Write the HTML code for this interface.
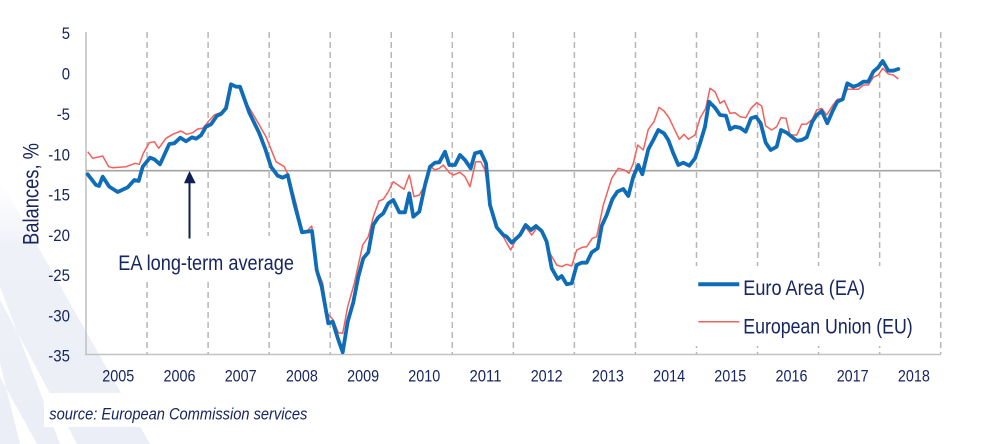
<!DOCTYPE html>
<html>
<head>
<meta charset="utf-8">
<style>
  html,body{margin:0;padding:0;background:#ffffff;}
  svg{display:block;}
  text{font-family:"Liberation Sans",Arial,sans-serif;fill:#172560;}
</style>
</head>
<body>
<svg width="989" height="444" viewBox="0 0 989 444" xmlns="http://www.w3.org/2000/svg">
  <defs>
    <linearGradient id="lav" x1="0" y1="0" x2="0" y2="1">
      <stop offset="0" stop-color="#f3f4fa" stop-opacity="0"/>
      <stop offset="0.25" stop-color="#eff1f8" stop-opacity="1"/>
      <stop offset="1" stop-color="#eceef7" stop-opacity="1"/>
    </linearGradient>
  </defs>
  <rect x="0" y="0" width="989" height="444" fill="#ffffff"/>

  <!-- decorative lavender stripes bottom-left -->
  <polygon points="0,180 150,444 0,444" fill="url(#lav)"/>
  <polygon points="0,287 0,300 77,444 60,444" fill="#ffffff"/>
  <polygon points="0,363 0,377 37,444 20,444" fill="#ffffff"/>

  <!-- white box behind source text -->
  <rect x="44" y="393" width="290" height="34" fill="#ffffff"/>

  <!-- dashed vertical year separators -->
  <g stroke="#b6b6b6" stroke-width="1.5" stroke-dasharray="6,4" fill="none">
    <line x1="147.05" y1="32" x2="147.05" y2="354"/>
    <line x1="208.1" y1="32" x2="208.1" y2="354"/>
    <line x1="269.15" y1="32" x2="269.15" y2="354"/>
    <line x1="330.2" y1="32" x2="330.2" y2="354"/>
    <line x1="391.25" y1="32" x2="391.25" y2="354"/>
    <line x1="452.3" y1="32" x2="452.3" y2="354"/>
    <line x1="513.35" y1="32" x2="513.35" y2="354"/>
    <line x1="574.4" y1="32" x2="574.4" y2="354"/>
    <line x1="635.45" y1="32" x2="635.45" y2="354"/>
    <line x1="696.5" y1="32" x2="696.5" y2="354"/>
    <line x1="757.55" y1="32" x2="757.55" y2="354"/>
    <line x1="818.6" y1="32" x2="818.6" y2="354"/>
    <line x1="879.65" y1="32" x2="879.65" y2="354"/>
    <line x1="940.7" y1="32" x2="940.7" y2="354"/>
  </g>

  <!-- white boxes behind annotation and legend -->
  <rect x="110" y="236" width="190" height="46" fill="#ffffff"/>
  <rect x="688" y="266" width="247" height="80" fill="#ffffff"/>

  <!-- axes -->
  <line x1="86" y1="32" x2="86" y2="355" stroke="#c2c2c2" stroke-width="1.6"/>
  <line x1="85.2" y1="354.5" x2="941" y2="354.5" stroke="#c2c2c2" stroke-width="1.6"/>

  <!-- long-term average line -->
  <line x1="86" y1="170.7" x2="940.7" y2="170.7" stroke="#a3a3a3" stroke-width="1.6"/>

  <!-- y tick labels -->
  <g font-size="17" text-anchor="end">
    <text x="70" y="39" textLength="8.3" lengthAdjust="spacingAndGlyphs">5</text>
    <text x="70" y="79.5" textLength="8.3" lengthAdjust="spacingAndGlyphs">0</text>
    <text x="70" y="119.8" textLength="13.3" lengthAdjust="spacingAndGlyphs">-5</text>
    <text x="70" y="160.3" textLength="21.7" lengthAdjust="spacingAndGlyphs">-10</text>
    <text x="70" y="200.5" textLength="21.7" lengthAdjust="spacingAndGlyphs">-15</text>
    <text x="70" y="240.8" textLength="21.7" lengthAdjust="spacingAndGlyphs">-20</text>
    <text x="70" y="281" textLength="21.7" lengthAdjust="spacingAndGlyphs">-25</text>
    <text x="70" y="321.3" textLength="21.7" lengthAdjust="spacingAndGlyphs">-30</text>
    <text x="70" y="361.5" textLength="21.7" lengthAdjust="spacingAndGlyphs">-35</text>
  </g>

  <!-- y axis title -->
  <text font-size="22" text-anchor="middle" transform="translate(38.3,194) rotate(-90)" textLength="102" lengthAdjust="spacingAndGlyphs">Balances, %</text>

  <!-- x labels -->
  <g font-size="17" text-anchor="middle">
    <text x="118.3" y="381.5" textLength="32" lengthAdjust="spacingAndGlyphs">2005</text>
    <text x="179.5" y="381.5" textLength="32" lengthAdjust="spacingAndGlyphs">2006</text>
    <text x="240.7" y="381.5" textLength="32" lengthAdjust="spacingAndGlyphs">2007</text>
    <text x="301.9" y="381.5" textLength="32" lengthAdjust="spacingAndGlyphs">2008</text>
    <text x="363.1" y="381.5" textLength="32" lengthAdjust="spacingAndGlyphs">2009</text>
    <text x="424.3" y="381.5" textLength="32" lengthAdjust="spacingAndGlyphs">2010</text>
    <text x="485.5" y="381.5" textLength="32" lengthAdjust="spacingAndGlyphs">2011</text>
    <text x="546.7" y="381.5" textLength="32" lengthAdjust="spacingAndGlyphs">2012</text>
    <text x="607.9" y="381.5" textLength="32" lengthAdjust="spacingAndGlyphs">2013</text>
    <text x="669.1" y="381.5" textLength="32" lengthAdjust="spacingAndGlyphs">2014</text>
    <text x="730.3" y="381.5" textLength="32" lengthAdjust="spacingAndGlyphs">2015</text>
    <text x="791.5" y="381.5" textLength="32" lengthAdjust="spacingAndGlyphs">2016</text>
    <text x="852.7" y="381.5" textLength="32" lengthAdjust="spacingAndGlyphs">2017</text>
    <text x="913.9" y="381.5" textLength="32" lengthAdjust="spacingAndGlyphs">2018</text>
  </g>

  <!-- EU series (thin red) -->
  <polyline fill="none" stroke="#f4605c" stroke-width="1.5" stroke-linejoin="round" points="
87.7,151.7 92.7,158.3 102.7,156 108.7,166.7 112.7,167.7 126,166.7 135.3,163.3 139.3,164.3 143.3,153.3 149.3,142.7 154.3,141.7 158.7,148.3 166,138.3 172.7,134.3 181,131 186.7,134.3 192.7,132.7 197.7,129 202.7,128.3 207.7,122.3 214.3,115 222.7,111.7 225.3,106.7 230.3,85 235.3,87.3 240,86.7 247.7,105 256,119.3 266,136.7 276,161.7 284.3,166.7 288.7,176 296,203.3 302.7,232.3 307,231 311.7,226 316.7,268.3 322.7,283.3 327.3,313.3 333.3,320 338.3,332.7 342.7,333.3 347.7,306.7 354.3,283.3 362.7,245 368.3,236.7 373.3,216.7 379,201 383.3,199.3 388.3,191.7 393.3,181.7 399.3,186 404,189.3 409.3,175 414,196.7 419.3,195 425,185 430,166 435,170 439.3,168.3 443.3,165 449.3,172.7 453.3,175 460,172.3 465,176.7 470,186.7 475.7,161.7 480.7,161.7 485,170 490,203.3 496.7,226.7 503.3,236.7 510.7,250 518.3,235 525.7,227.3 531.7,235 536.7,228.3 545,235 550,253.3 556.7,265 561.7,266.7 566.7,264.3 571.7,266 576.7,250 582.3,247.3 586.7,246.7 592.3,238.3 596.7,236.7 603.3,205 611.7,178.3 618.3,168.3 624.3,170 629,173.3 633.3,163.3 637.7,145 643.3,150 648.3,129.3 654,121.7 659,107.3 664,111 669,117.7 674,128.3 679.3,139.3 684,134.3 688.3,139.3 695,135 700,118.3 705.7,108.3 710,88.3 715,91.7 720,103.3 724.3,100.7 730,113.3 735,112.7 740,116.7 745.7,117.7 751,108.3 756.7,102.7 761.7,106 765.7,126 771.7,130 776.7,126.7 781,117.7 786,118.3 790,135 796.7,135 801.7,124.3 806.7,124 812.3,119.3 816.7,110 821.7,108.3 826.7,115 832.3,106 837.3,99.3 842.7,98.3 847.3,89.3 853.3,89.3 858.3,89.3 863.3,85 868.3,85 873.3,77.3 878.3,75 882.7,68.3 888.3,74 893.3,75 898.3,79"/>

  <!-- EA series (thick blue) -->
  <polyline fill="none" stroke="#0f6db7" stroke-width="3.8" stroke-linejoin="round" stroke-linecap="round" points="
87.7,174.3 96,185 99,186 102.7,176.7 109.3,186.7 117.7,192 127.7,187.3 134.3,180 138.7,181 142.7,166.7 150,157.7 154.3,159.3 160,164.3 169.3,144 174.3,143.3 180.3,137.7 186,141.3 192,137.3 196,138.7 201,135.3 206,126.7 211,124.3 217,115.7 221,114 226,108.3 231,84.3 236,86.7 240,86.7 249.3,112.7 259.3,133.3 265.3,149 271,166.7 277.7,175.7 282.7,177.7 287.7,175 294.3,203.3 302,232.3 312,231 316.7,270 321.7,286.7 328.3,323.3 332.7,321.7 337.3,336.7 342.7,352.3 347.7,321.7 353.3,302.3 358.3,276.7 363.3,258.3 368.3,252.3 373.3,225 378.3,217.3 383.3,213.3 388.3,203.3 393.3,200 399.3,212.3 405,212.3 409.3,193.3 413.3,216.7 419.3,211.7 425,185 430,166.7 435,162.7 439.3,162.3 445,151.7 449.3,165 455,165 460,155 465,160 470.7,168.3 475,153.3 480.7,151.7 486,163.3 490,205 496.7,227.3 503.3,235 506.7,236.7 511.7,242.7 520,235 525.7,225 531,230 536,226 541.7,231 546.7,241.7 551.7,268.3 557.7,279 561.7,276 566.7,284.3 571.7,283.3 576.7,265 581.7,262.7 586.7,262.7 591.7,252.3 597.7,248.3 601.7,226 606.7,215 612.3,199.3 617.3,191.7 623.3,189 628.3,196 633.3,176.7 638.3,165 642.3,174.3 648.3,149.3 653.3,140 658.3,130 664,133.3 668.3,140 673.3,153.3 678.3,165 683.3,162.7 689.3,165.7 695,158.3 700,143.3 705,126.7 709,101.7 715,107.7 720,115 726,115.7 730,129.3 735,126.7 740,127.7 745.7,131.7 751,118.3 756,116.7 760.7,123.3 765.7,142.7 770.7,150 776.7,146.7 781,130 786.7,132.7 791.7,136.7 796.7,140.7 801.7,140 806.7,137.3 812.3,121.7 816.7,115 821.7,111 827.3,123.3 832.3,111.7 837.3,101.7 842.7,99.3 847.3,83.3 853.3,86.7 858.3,85 863.3,81.7 868.3,81.7 873.3,71.7 878.3,67.3 882.7,61 888.3,70.7 893.3,70.7 898.3,69"/>

  <!-- arrow pointing to long-term average -->
  <line x1="189.5" y1="181" x2="189.5" y2="238.5" stroke="#0f1f55" stroke-width="2"/>
  <polygon points="189.5,171 195.7,183.3 184,183.3" fill="#0f1f55"/>
  <text x="118.3" y="270" font-size="21.5" textLength="175.7" lengthAdjust="spacingAndGlyphs">EA long-term average</text>

  <!-- legend -->
  <line x1="698.3" y1="284.3" x2="739.3" y2="284.3" stroke="#0f6db7" stroke-width="4"/>
  <text x="743.3" y="295" font-size="21" textLength="121.7" lengthAdjust="spacingAndGlyphs">Euro Area (EA)</text>
  <line x1="698.3" y1="321.7" x2="739.3" y2="321.7" stroke="#f4605c" stroke-width="1.5"/>
  <text x="743.3" y="333.3" font-size="21" textLength="169.4" lengthAdjust="spacingAndGlyphs">European Union (EU)</text>

  <!-- source -->
  <text x="49.3" y="419.3" font-size="16.3" font-style="italic" textLength="258" lengthAdjust="spacingAndGlyphs">source: European  Commission  services</text>
</svg>
</body>
</html>
